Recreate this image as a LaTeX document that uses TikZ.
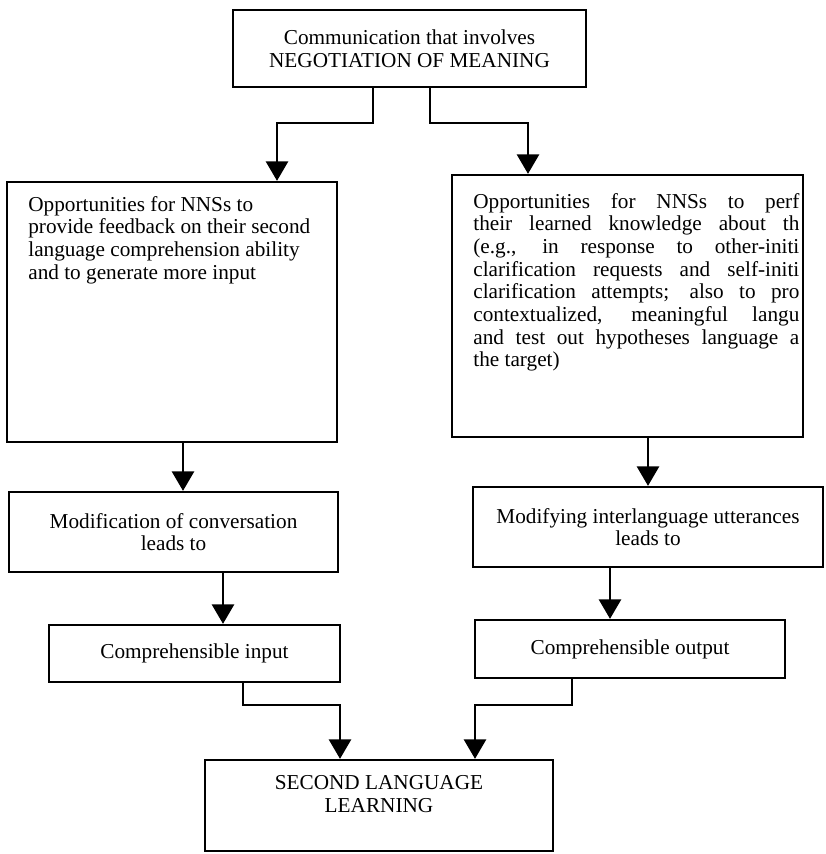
\documentclass[tikz,border=0pt]{standalone}
\usepackage{fontspec}
\setmainfont{Liberation Serif}
\usetikzlibrary{arrows.meta}
\newlength\pxu
\setlength\pxu{0.565pt}

\begin{document}
\begin{tikzpicture}[x=\pxu,y=-\pxu,
  box/.style={draw,line width=1.3pt,inner sep=0pt,align=center,font=\fontsize{12}{12.8}\selectfont},
  sz/.style 2 args={minimum width=#1*\pxu,minimum height=#2*\pxu},
  txt/.style={inner sep=0pt,align=left,font=\fontsize{12}{12.8}\selectfont},
  arr/.style={line width=1.3pt,-{Triangle[width=12.5pt,length=11pt]}}]
\useasboundingbox (0,0) rectangle (825,854);
\node[box,sz={353}{77}] (top) at (409.5,48.5) {Communication that involves\\NEGOTIATION OF MEANING};
\node[box,sz={330}{260}] (opp1) at (172,312) {};
\node[txt,anchor=north west] (opp1txt) at (28,196) {Opportunities for NNSs to\\provide feedback on their second\\language comprehension ability\\and to generate more input};
\node[box,sz={351}{262}] (opp2) at (627.5,306) {};
\node[txt,anchor=north west] (opp2txt) at (473,193) {\makebox[326\pxu][s]{Opportunities for NNSs to perf}\\
\makebox[326\pxu][s]{their learned knowledge about th}\\
\makebox[326\pxu][s]{(e.g., in response to other-initi}\\
\makebox[326\pxu][s]{clarification requests and self-initi}\\
\makebox[326\pxu][s]{clarification attempts; also to pro}\\
\makebox[326\pxu][s]{contextualized, meaningful langu}\\
\makebox[326\pxu][s]{and test out hypotheses language a}\\
the target)};
\node[box,sz={329}{80}] (mod1) at (173.5,532) {Modification of conversation\\leads to};
\node[box,sz={350}{80}] (mod2) at (648,527) {Modifying interlanguage utterances\\leads to};
\node[box,sz={291}{57}] (input) at (194.5,653.5) {Comprehensible input};
\node[box,sz={310}{58}] (output) at (630,649) {Comprehensible output};
\node[box,sz={348}{91}] (sll) at (379,805.5) {SECOND LANGUAGE\\LEARNING\\ \mbox{}};
\draw[arr] (373,0 |- top.south) |- (277,123) -- (277,0 |- opp1.north);
\draw[arr] (430,0 |- top.south) |- (528,123) -- (528,0 |- opp2.north);
\draw[arr] (183,0 |- opp1.south) -- (183,0 |- mod1.north);
\draw[arr] (648,0 |- opp2.south) -- (648,0 |- mod2.north);
\draw[arr] (223,0 |- mod1.south) -- (223,0 |- input.north);
\draw[arr] (610,0 |- mod2.south) -- (610,0 |- output.north);
\draw[arr] (243,0 |- input.south) |- (340,705) -- (340,0 |- sll.north);
\draw[arr] (572,0 |- output.south) |- (475,705) -- (475,0 |- sll.north);
\end{tikzpicture}
\end{document}
